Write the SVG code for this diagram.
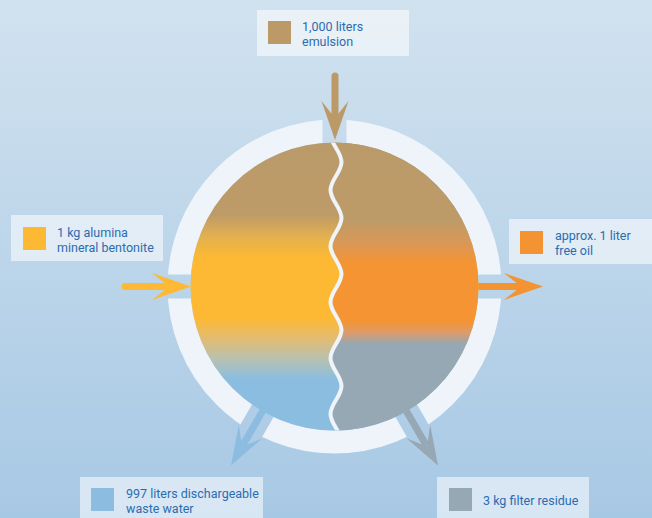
<svg xmlns="http://www.w3.org/2000/svg" width="652" height="518" viewBox="0 0 652 518">
  <defs>
    <linearGradient id="bg" x1="0" y1="0" x2="0" y2="518" gradientUnits="userSpaceOnUse">
      <stop offset="0" stop-color="#d1e2ef"/>
      <stop offset="1" stop-color="#a7c8e4"/>
    </linearGradient>
    <linearGradient id="gl" x1="0" y1="142" x2="0" y2="431" gradientUnits="userSpaceOnUse">
      <stop offset="0" stop-color="#bb9a6a"/>
      <stop offset="0.25" stop-color="#bd9b68"/>
      <stop offset="0.33" stop-color="#e3b14e"/>
      <stop offset="0.40" stop-color="#fdb933"/>
      <stop offset="0.61" stop-color="#fdb933"/>
      <stop offset="0.68" stop-color="#e2bc72"/>
      <stop offset="0.75" stop-color="#b9c1b0"/>
      <stop offset="0.82" stop-color="#8bbde0"/>
      <stop offset="1" stop-color="#8bbde0"/>
    </linearGradient>
    <linearGradient id="gr" x1="0" y1="142" x2="0" y2="431" gradientUnits="userSpaceOnUse">
      <stop offset="0" stop-color="#bb9a6a"/>
      <stop offset="0.27" stop-color="#bd9b68"/>
      <stop offset="0.35" stop-color="#d99857"/>
      <stop offset="0.42" stop-color="#f49432"/>
      <stop offset="0.62" stop-color="#f49432"/>
      <stop offset="0.66" stop-color="#dc9b6b"/>
      <stop offset="0.70" stop-color="#95a8b3"/>
      <stop offset="1" stop-color="#95a8b3"/>
    </linearGradient>
    <clipPath id="disk">
      <circle cx="334.5" cy="286.5" r="144"/>
    </clipPath>
    <mask id="gaps" maskUnits="userSpaceOnUse" x="0" y="0" width="652" height="518">
      <rect x="0" y="0" width="652" height="518" fill="#fff"/>
      <g transform="translate(334.5,286.5)" fill="#000">
        <rect x="130" y="-12" width="50" height="24" transform="rotate(-90)"/>
        <rect x="130" y="-12" width="50" height="24" transform="rotate(180)"/>
        <rect x="130" y="-12" width="50" height="24" transform="rotate(0)"/>
        <rect x="130" y="-12.5" width="50" height="25" transform="rotate(60)"/>
        <rect x="130" y="-12.5" width="50" height="25" transform="rotate(120)"/>
      </g>
    </mask>
    <path id="head" d="M0,0 L-39,-13.5 L-22,0 L-39,13.5 Z"/>
    <path id="wave" d="M336,120 C328.67,131.9 328.67,136.1 336,148 S343.33,164.1 336,176 S328.67,192.1 336,204 S343.33,220.1 336,232 S328.67,248.1 336,260 S343.33,276.1 336,288 S328.67,304.1 336,316 S343.33,332.1 336,344 S328.67,360.1 336,372 S343.33,388.1 336,400 S328.67,416.1 336,428 S343.33,444.1 336,456"/>
  </defs>
  <style>
    .box { fill: #ffffff; fill-opacity: 0.55; }
    .lbl { font-family: Roboto, "Open Sans", "Liberation Sans", sans-serif; font-size: 12.5px; fill: #2b6cb0; }
    .shaft { fill: none; stroke-width: 7; }
  </style>

  <rect x="0" y="0" width="652" height="518" fill="url(#bg)"/>

  <!-- ring -->
  <g id="ring">
    <circle cx="334.5" cy="286.5" r="155.5" fill="none" stroke="#eef4fa" stroke-width="23" mask="url(#gaps)"/>
  </g>

  <!-- connectors -->
  <g id="connectors">
    <g id="arrow-in-top">
      <line class="shaft" x1="335" y1="76" x2="335" y2="118" stroke="#bb9a68" stroke-linecap="round"/>
      <use href="#head" transform="translate(335,140) rotate(90)" fill="#bb9a68"/>
    </g>
    <g id="arrow-in-left">
      <line class="shaft" x1="125" y1="286.5" x2="169" y2="286.5" stroke="#fdb933" stroke-linecap="round"/>
      <use href="#head" transform="translate(191,286.5)" fill="#fdb933"/>
    </g>
    <g id="arrow-out-right">
      <line class="shaft" x1="474" y1="286.5" x2="521" y2="286.5" stroke="#f39332"/>
      <use href="#head" transform="translate(543,286.5)" fill="#f39332"/>
    </g>
    <g id="arrow-out-water">
      <line class="shaft" x1="264.5" y1="407.7" x2="242.5" y2="445.8" stroke="#8cbde0"/>
      <use href="#head" transform="translate(231,465.5) rotate(120)" fill="#8cbde0"/>
    </g>
    <g id="arrow-out-residue">
      <line class="shaft" x1="404.5" y1="407.7" x2="426.5" y2="445.8" stroke="#95a8b3"/>
      <use href="#head" transform="translate(438,465.5) rotate(60)" fill="#95a8b3"/>
    </g>
  </g>

  <!-- separator disk -->
  <g id="separator">
    <circle cx="334.5" cy="286.5" r="144" fill="url(#gl)"/>
    <g clip-path="url(#disk)">
      <path d="M336,120 C328.67,131.9 328.67,136.1 336,148 S343.33,164.1 336,176 S328.67,192.1 336,204 S343.33,220.1 336,232 S328.67,248.1 336,260 S343.33,276.1 336,288 S328.67,304.1 336,316 S343.33,332.1 336,344 S328.67,360.1 336,372 S343.33,388.1 336,400 S328.67,416.1 336,428 S343.33,444.1 336,456 L500,456 L500,120 Z" fill="url(#gr)"/>
      <use href="#wave" fill="none" stroke="#eef4fa" stroke-width="4"/>
    </g>
  </g>

  <!-- labels -->
  <g id="node-emulsion">
    <rect class="box" x="257" y="10" width="152" height="46"/>
    <rect x="268" y="21" width="23" height="23" fill="#bb9a68"/>
    <text class="lbl" x="302" y="31">1,000 liters</text>
    <text class="lbl" x="302" y="46">emulsion</text>
  </g>
  <g id="node-bentonite">
    <rect class="box" x="11" y="215" width="152" height="46"/>
    <rect x="23" y="227" width="23" height="23" fill="#fdb933"/>
    <text class="lbl" x="57" y="237">1 kg alumina</text>
    <text class="lbl" x="57" y="252">mineral bentonite</text>
  </g>
  <g id="node-oil">
    <rect class="box" x="509" y="219" width="143" height="45"/>
    <rect x="520" y="231" width="23" height="23" fill="#f39332"/>
    <text class="lbl" x="555" y="240">approx. 1 liter</text>
    <text class="lbl" x="555" y="255">free oil</text>
  </g>
  <g id="node-water">
    <rect class="box" x="80" y="477" width="183" height="41"/>
    <rect x="91" y="488" width="23" height="23" fill="#8cbde0"/>
    <text class="lbl" x="126" y="498">997 liters dischargeable</text>
    <text class="lbl" x="126" y="513">waste water</text>
  </g>
  <g id="node-residue">
    <rect class="box" x="437" y="477" width="152" height="41"/>
    <rect x="449" y="488" width="23" height="23" fill="#95a8b3"/>
    <text class="lbl" x="483" y="505">3 kg filter residue</text>
  </g>
</svg>
